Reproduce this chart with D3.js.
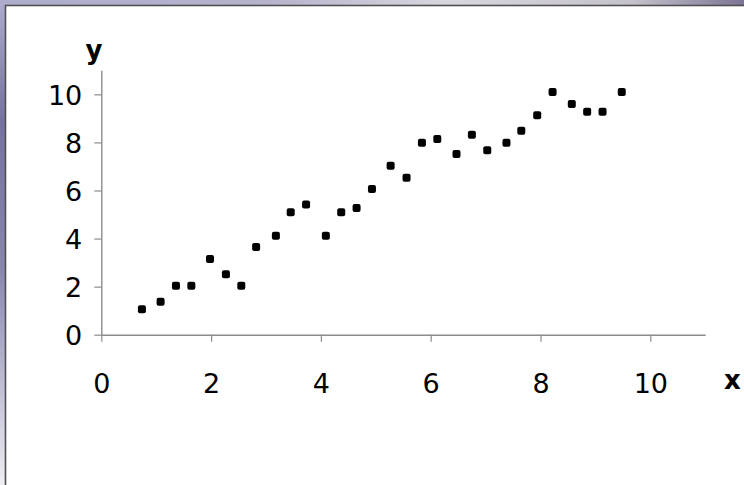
<!DOCTYPE html>
<html>
<head>
<meta charset="utf-8">
<script src="https://cdn.jsdelivr.net/npm/d3@7"></script>
<style>
  body { margin: 0; background: #fff; }
  svg { display: block; }
</style>
</head>
<body>
<script>
"use strict";
// values
var xValues = [0.74, 1.08, 1.36, 1.64, 1.98, 2.27, 2.55, 2.82, 3.18, 3.45,
               3.73, 4.09, 4.37, 4.65, 4.93, 5.27, 5.56, 5.84, 6.12, 6.47,
               6.75, 7.03, 7.38, 7.65, 7.94, 8.22, 8.57, 8.85, 9.13, 9.48];
var yValues = [1.06, 1.37, 2.04, 2.04, 3.15, 2.51, 2.04, 3.65, 4.12, 5.09,
               5.42, 4.12, 5.09, 5.27, 6.06, 7.03, 6.53, 7.99, 8.14, 7.52,
               8.32, 7.67, 7.99, 8.49, 9.13, 10.10, 9.60, 9.28, 9.28, 10.10];
var xTicks = [0, 2, 4, 6, 8, 10];
var yTicks = [0, 2, 4, 6, 8, 10];

var W = 744, H = 485;
var plotLeft = 101.3, plotTop = 70.3, plotW = 603.9, plotH = 264.4;
var fontFam = "'DejaVu Sans', Verdana, sans-serif";

var svg = d3.select("body").append("svg")
    .attr("width", W)
    .attr("height", H);

var defs = svg.append("defs");
var gLeft = defs.append("linearGradient").attr("id", "bgLeft")
    .attr("x1", 0).attr("y1", 0).attr("x2", 0).attr("y2", 1);
gLeft.append("stop").attr("offset", "0").attr("stop-color", "#aeaccc");
gLeft.append("stop").attr("offset", "0.25").attr("stop-color", "#7472a0");
gLeft.append("stop").attr("offset", "0.55").attr("stop-color", "#8886ae");
gLeft.append("stop").attr("offset", "1").attr("stop-color", "#eeeef4");

var gTop = defs.append("linearGradient").attr("id", "bgTop")
    .attr("x1", 0).attr("y1", 0).attr("x2", 1).attr("y2", 0);
gTop.append("stop").attr("offset", "0").attr("stop-color", "#aeaccc");
gTop.append("stop").attr("offset", "0.35").attr("stop-color", "#b4b2cc");
gTop.append("stop").attr("offset", "0.6").attr("stop-color", "#d8d6de");
gTop.append("stop").attr("offset", "0.85").attr("stop-color", "#c6c2cc");
gTop.append("stop").attr("offset", "1").attr("stop-color", "#7c7494");

// background photo strips
svg.append("rect").attr("x", 0).attr("y", 0).attr("width", 6).attr("height", H)
    .attr("fill", "url(#bgLeft)");
svg.append("rect").attr("x", 0).attr("y", 0).attr("width", W).attr("height", 6)
    .attr("fill", "url(#bgTop)");

// white panel
svg.append("rect")
    .attr("x", 5.5).attr("y", 5.5)
    .attr("width", W + 10).attr("height", H + 10)
    .attr("fill", "#fff")
    .attr("stroke", "#505050")
    .attr("stroke-width", 1.6);

var x = d3.scaleLinear().domain([0, 11]).range([plotLeft, plotLeft + plotW]);
var y = d3.scaleLinear().domain([0, 11]).range([plotTop + plotH, plotTop]);

var axisColor = "#8c8c8c";

var xAxis = svg.append("g")
    .attr("transform", "translate(0," + (plotTop + plotH) + ")")
    .call(d3.axisBottom(x).tickValues(xTicks).tickSize(7).tickSizeOuter(0));

var yAxis = svg.append("g")
    .attr("transform", "translate(" + plotLeft + ",0)")
    .call(d3.axisLeft(y).tickValues(yTicks).tickSize(7).tickSizeOuter(0));

[xAxis, yAxis].forEach(function (a) {
    a.attr("font-family", null).attr("font-size", null);
    a.select(".domain").attr("stroke", axisColor).attr("stroke-width", 1.4);
    a.selectAll(".tick line").attr("stroke", axisColor).attr("stroke-width", 1.2);
    a.selectAll(".tick text")
        .attr("fill", "#000")
        .style("font-family", fontFam)
        .style("font-size", "27px");
});

xAxis.selectAll(".tick text")
    .attr("y", 58).attr("dy", 0)
    .attr("text-anchor", "middle");

yAxis.selectAll(".tick text")
    .attr("x", -19).attr("dy", "0.364em")
    .attr("text-anchor", "end");

// axis titles
svg.append("text")
    .attr("x", 94).attr("y", 59)
    .attr("text-anchor", "middle")
    .style("font-family", fontFam)
    .style("font-weight", "bold")
    .style("font-size", "26px")
    .text("y");

svg.append("text")
    .attr("x", 732.5).attr("y", 388.7)
    .attr("text-anchor", "middle")
    .style("font-family", fontFam)
    .style("font-weight", "bold")
    .style("font-size", "26px")
    .text("x");

// points
var points = xValues.map(function (v, i) { return [v, yValues[i]]; });
var m = 8;
svg.append("g").selectAll("rect")
    .data(points)
    .join("rect")
    .attr("x", function (d) { return x(d[0]) - m / 2; })
    .attr("y", function (d) { return y(d[1]) - m / 2; })
    .attr("width", m)
    .attr("height", m)
    .attr("rx", 2)
    .attr("fill", "#000");
</script>
</body>
</html>
